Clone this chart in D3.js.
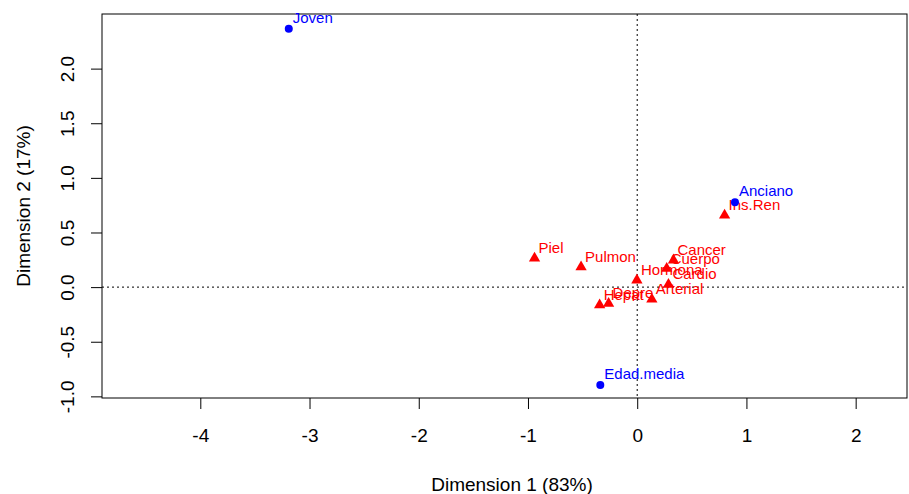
<!DOCTYPE html>
<html>
<head>
<meta charset="utf-8">
<script src="https://cdn.jsdelivr.net/npm/d3@7"></script>
<style>
  body { margin: 0; background: #fff; }
  text { font-family: "Liberation Sans", Arial, sans-serif; }
</style>
</head>
<body>
<div id="chart"></div>
<script>
// row points (red triangles)
const rowNames = ["Piel", "Pulmon", "Hormona", "Cancer", "Cuerpo", "Cardio", "Arterial", "Hepat", "Depre", "Ins.Ren"];
const rowDim1 = [-0.94, -0.514, -0.003, 0.332, 0.27, 0.286, 0.134, -0.344, -0.262, 0.80];
const rowDim2 = [0.265, 0.185, 0.064, 0.247, 0.17, 0.025, -0.11, -0.164, -0.149, 0.657];

// column points (blue dots)
const colNames = ["Joven", "Anciano", "Edad.media"];
const colDim1 = [-3.19, 0.895, -0.338];
const colDim2 = [2.365, 0.776, -0.895];

const xTicks = [-4, -3, -2, -1, 0, 1, 2];
const yTicks = [-1.0, -0.5, 0.0, 0.5, 1.0, 1.5, 2.0];

const width = 909, height = 494;
const margin = { top: 14, left: 102, right: 2, bottom: 96 };

const svg = d3.select("#chart")
  .append("svg")
  .attr("width", width)
  .attr("height", height);

const xScale = d3.scaleLinear()
  .domain([-4.9, 2.47])
  .range([margin.left, width - margin.right]);

const yScale = d3.scaleLinear()
  .domain([-1.015, 2.5])
  .range([height - margin.bottom, margin.top]);

// R style labels use a plain hyphen for minus
const hyph = f => v => f(v).replace("\u2212", "-");

// axes
const xAxis = svg.append("g")
  .attr("transform", `translate(0,${height - margin.bottom})`)
  .call(d3.axisBottom(xScale).tickValues(xTicks).tickFormat(hyph(d3.format("d"))).tickSize(11).tickPadding(20));
xAxis.select(".domain").remove();
xAxis.selectAll("text").attr("font-size", 19).attr("fill", "#000");

const yAxis = svg.append("g")
  .attr("transform", `translate(${margin.left},0)`)
  .call(d3.axisLeft(yScale).tickValues(yTicks).tickFormat(hyph(d3.format(".1f"))).tickSize(11));
yAxis.select(".domain").remove();
yAxis.selectAll(".tick text")
  .attr("font-size", 19)
  .attr("fill", "#000")
  .attr("text-anchor", "middle")
  .attr("transform", "translate(-35,0) rotate(-90)")
  .attr("x", 0).attr("y", 0).attr("dy", "0.35em");

// box
svg.append("rect")
  .attr("x", margin.left).attr("y", margin.top)
  .attr("width", width - margin.left - margin.right)
  .attr("height", height - margin.top - margin.bottom)
  .attr("fill", "none").attr("stroke", "#000").attr("stroke-width", 1);

// zero lines
svg.append("line")
  .attr("x1", xScale(0)).attr("x2", xScale(0))
  .attr("y1", margin.top).attr("y2", height - margin.bottom)
  .attr("stroke", "#000").attr("stroke-dasharray", "2,3");
svg.append("line")
  .attr("x1", margin.left).attr("x2", width - margin.right)
  .attr("y1", yScale(0)).attr("y2", yScale(0))
  .attr("stroke", "#000").attr("stroke-dasharray", "2,3");

const rows = rowNames.map((n, i) => ({ name: n, x: rowDim1[i], y: rowDim2[i] }));
const cols = colNames.map((n, i) => ({ name: n, x: colDim1[i], y: colDim2[i] }));

svg.selectAll(".row")
  .data(rows)
  .join("path")
  .attr("d", d3.symbol().type(d3.symbolTriangle).size(55))
  .attr("transform", d => `translate(${xScale(d.x)},${yScale(d.y)})`)
  .attr("fill", "#ff0000");

svg.selectAll(".rowlab")
  .data(rows)
  .join("text")
  .attr("x", d => xScale(d.x) + 4)
  .attr("y", d => yScale(d.y) - 5)
  .attr("font-size", 15)
  .attr("fill", "#ff0000")
  .text(d => d.name);

svg.selectAll(".col")
  .data(cols)
  .join("circle")
  .attr("cx", d => xScale(d.x))
  .attr("cy", d => yScale(d.y))
  .attr("r", 4)
  .attr("fill", "#0000ff");

svg.selectAll(".collab")
  .data(cols)
  .join("text")
  .attr("x", d => xScale(d.x) + 4)
  .attr("y", d => yScale(d.y) - 6)
  .attr("font-size", 15)
  .attr("fill", "#0000ff")
  .text(d => d.name);

// axis titles
svg.append("text")
  .attr("x", 512)
  .attr("y", 491)
  .attr("text-anchor", "middle")
  .attr("font-size", 19)
  .text("Dimension 1 (83%)");

svg.append("text")
  .attr("transform", "rotate(-90)")
  .attr("x", -(margin.top + height - margin.bottom) / 2)
  .attr("y", 30)
  .attr("text-anchor", "middle")
  .attr("font-size", 19)
  .text("Dimension 2 (17%)");
</script>
</body>
</html>
